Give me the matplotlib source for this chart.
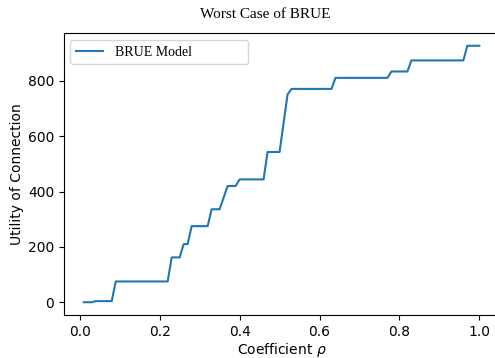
import numpy as np
import matplotlib.pyplot as plt

# step points of the BRUE curve
rho = [0.01, 0.03, 0.04, 0.08, 0.09, 0.22, 0.23, 0.25, 0.26, 0.27, 0.28,
       0.32, 0.33, 0.35, 0.37, 0.39, 0.40, 0.46, 0.47, 0.50, 0.52, 0.53,
       0.63, 0.64, 0.77, 0.78, 0.82, 0.83, 0.96, 0.97, 1.00]
utility = [0, 0, 4, 4, 75, 75, 162, 162, 210, 210, 275,
           275, 336, 336, 420, 420, 444, 444, 543, 543, 751, 771,
           771, 811, 811, 834, 834, 874, 874, 927, 927]

fig = plt.figure(figsize=(4.95, 3.58), dpi=100)
ax = fig.add_axes([0.1293, 0.120, 0.879, 0.788])

ax.plot(rho, utility, color='tab:blue', linewidth=1.5, label='BRUE Model')

ax.set_xlabel(r'Coefficient $\rho$', labelpad=1.5)
ax.set_ylabel('Utility of Connection', labelpad=3)
ax.set_title('Worst Case of BRUE', family='Liberation Serif', fontsize=11,
             x=0.462, pad=11)
ax.legend(loc='upper left', bbox_to_anchor=(0.014, 0.5, 0.41, 0.475),
          mode='expand', borderaxespad=0, prop={'family': 'Liberation Serif', 'size': 10})

fig.savefig('out.png', dpi=100)
